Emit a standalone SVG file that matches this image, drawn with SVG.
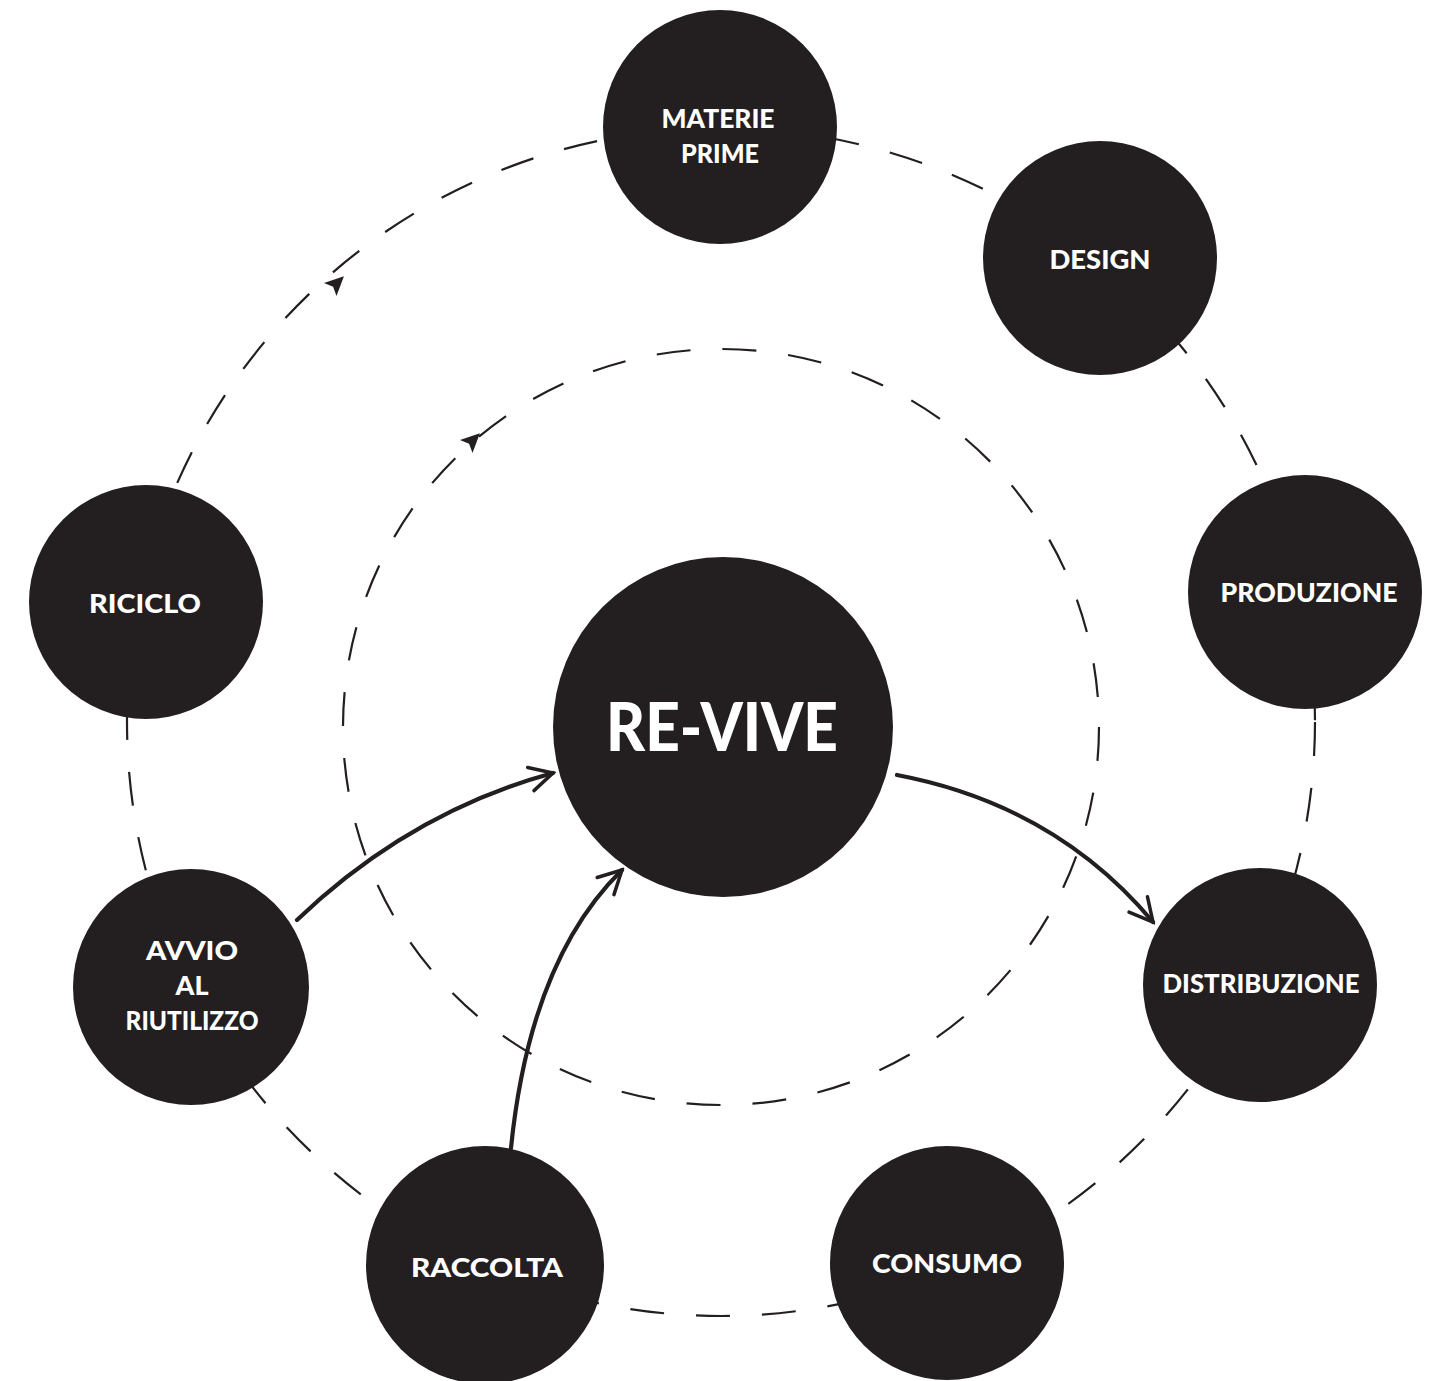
<svg xmlns="http://www.w3.org/2000/svg" width="1439" height="1381" viewBox="0 0 1439 1381">
<defs>
<style>
.dash{fill:none;stroke:#231f20;stroke-width:2.2;stroke-dasharray:34 32}
.node{fill:#231f20}
.lbl{fill:#ffffff;font-family:Lato,"Open Sans","Liberation Sans",sans-serif;font-weight:900;font-size:27px;text-anchor:middle}
.big{font-size:66px}
.arr{fill:none;stroke:#231f20;stroke-width:4.2;stroke-linecap:round}
.tri{fill:#231f20}
</style>
<marker id="open" viewBox="0 0 30 30" refX="27" refY="15" markerWidth="30" markerHeight="30" markerUnits="userSpaceOnUse" orient="auto">
<path d="M4,3 L27,15 L4,27" fill="none" stroke="#231f20" stroke-width="3.5" stroke-linecap="round" stroke-linejoin="miter"/>
</marker>
</defs>
<rect width="1439" height="1381" fill="#ffffff"/>
<g id="connectors">
<circle class="dash" cx="721" cy="722" r="594"/>
<circle class="dash" cx="721" cy="727" r="378"/>
<path class="tri" d="M11,0 L-8,-9 L-4,0 L-8,9 Z" transform="translate(336,284) rotate(-44)"/>
<path class="tri" d="M11,0 L-8,-9 L-4,0 L-8,9 Z" transform="translate(472,441) rotate(-44)"/>
<path class="arr" d="M297,920 Q410,812 553,773" marker-end="url(#open)"/>
<path class="arr" d="M511,1148 Q530,960 622,870" marker-end="url(#open)"/>
<path class="arr" d="M897,775 Q1055,805 1153,922" marker-end="url(#open)"/>
</g>
<g id="node-materie"><circle class="node" cx="720" cy="127" r="117"/><text class="lbl" x="718" y="128" textLength="113" lengthAdjust="spacingAndGlyphs">MATERIE</text><text class="lbl" x="720" y="163" textLength="78" lengthAdjust="spacingAndGlyphs">PRIME</text></g>
<g id="node-design"><circle class="node" cx="1100" cy="258" r="117"/><text class="lbl" x="1100" y="269" textLength="101" lengthAdjust="spacingAndGlyphs">DESIGN</text></g>
<g id="node-produzione"><circle class="node" cx="1305" cy="592" r="117"/><text class="lbl" x="1309" y="602" textLength="177" lengthAdjust="spacingAndGlyphs">PRODUZIONE</text></g>
<g id="node-distribuzione"><circle class="node" cx="1260" cy="985" r="117"/><text class="lbl" x="1261" y="993" textLength="197" lengthAdjust="spacingAndGlyphs">DISTRIBUZIONE</text></g>
<g id="node-consumo"><circle class="node" cx="947" cy="1263" r="117"/><text class="lbl" x="947" y="1273" textLength="150" lengthAdjust="spacingAndGlyphs">CONSUMO</text></g>
<g id="node-raccolta"><circle class="node" cx="485" cy="1265" r="119"/><text class="lbl" x="487" y="1277" textLength="152" lengthAdjust="spacingAndGlyphs">RACCOLTA</text></g>
<g id="node-avvio"><circle class="node" cx="191" cy="987" r="118"/><text class="lbl" x="192" y="960" textLength="92" lengthAdjust="spacingAndGlyphs">AVVIO</text><text class="lbl" x="192" y="995" textLength="33" lengthAdjust="spacingAndGlyphs">AL</text><text class="lbl" x="192" y="1030" textLength="133" lengthAdjust="spacingAndGlyphs">RIUTILIZZO</text></g>
<g id="node-riciclo"><circle class="node" cx="146" cy="602" r="117"/><text class="lbl" x="145" y="613" textLength="112" lengthAdjust="spacingAndGlyphs">RICICLO</text></g>
<g id="node-revive"><circle class="node" cx="723" cy="727" r="170"/><text class="lbl big" x="722" y="751" textLength="232" lengthAdjust="spacingAndGlyphs">RE-VIVE</text></g>
</svg>
